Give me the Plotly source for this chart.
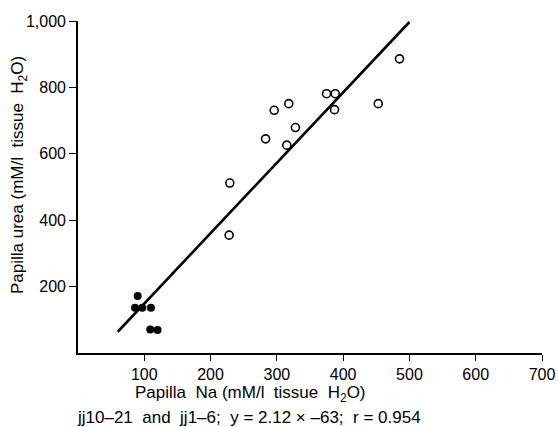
import plotly.graph_objects as go

# Open circles (jj10-21)
open_x = [228, 229, 283, 296, 315, 318, 328, 375, 388, 387, 453, 485]
open_y = [355, 512, 645, 731, 626, 751, 679, 781, 781, 733, 751, 886]

# Filled circles (jj1-6)
filled_x = [90, 86, 97, 110, 109, 120]
filled_y = [172, 136, 136, 136, 71, 69]

# Regression line end points (y = 2.12x - 63)
line_x = [60, 500]
line_y = [64, 997]

x_ticks = [100, 200, 300, 400, 500, 600, 700]
x_ticktext = ["100", "200", "300", "400", "500", "600", "700"]
y_ticks = [200, 400, 600, 800, 1000]
y_ticktext = ["200", "400", "600", "800", "1,000"]

FONT = "Liberation Sans"

W, H = 558, 427
L, T = 78, 21
R = W - 542
B = H - 353

fig = go.Figure()
fig.add_trace(go.Scatter(x=line_x, y=line_y, mode="lines",
                         line=dict(color="black", width=2.6), hoverinfo="skip"))
fig.add_trace(go.Scatter(x=open_x, y=open_y, mode="markers",
                         marker=dict(symbol="circle-open", size=8, color="black",
                                     line=dict(width=1.6, color="black"))))
fig.add_trace(go.Scatter(x=filled_x, y=filled_y, mode="markers",
                         marker=dict(symbol="circle", size=8, color="black")))

fig.update_layout(
    width=W, height=H,
    margin=dict(l=L, r=R, t=T, b=B, autoexpand=False),
    paper_bgcolor="white", plot_bgcolor="white",
    showlegend=False,
    font=dict(family=FONT, size=16, color="black"),
    xaxis=dict(range=[0, 700], tickvals=x_ticks, ticktext=x_ticktext,
               showline=True, linecolor="black", linewidth=1.6,
               ticks="outside", ticklen=6, tickwidth=1.4, tickcolor="black",
               showgrid=False, zeroline=False, automargin=False,
               tickfont=dict(family=FONT, size=16, color="black")),
    yaxis=dict(range=[0, 1000], tickvals=y_ticks, ticktext=y_ticktext,
               showline=True, linecolor="black", linewidth=1.6,
               ticks="outside", ticklen=7, tickwidth=1.4, tickcolor="black",
               showgrid=False, zeroline=False, automargin=False,
               tickfont=dict(family=FONT, size=16, color="black")),
)

pw = W - L - R
ph = H - T - B

def px2paper_x(px):
    return (px - L) / pw

def px2paper_y(py):
    return (H - B - py) / ph

fig.add_annotation(text="Papilla  Na (mM/l  tissue  H<sub>2</sub>O)",
                   xref="paper", yref="paper", x=px2paper_x(250), y=px2paper_y(394),
                   xanchor="center", yanchor="middle", showarrow=False,
                   font=dict(family=FONT, size=17, color="black"))
fig.add_annotation(text="jj10–21  and  jj1–6;  y = 2.12 × –63;  r = 0.954",
                   xref="paper", yref="paper", x=px2paper_x(249), y=px2paper_y(417),
                   xanchor="center", yanchor="middle", showarrow=False,
                   font=dict(family=FONT, size=17, color="black"))
fig.add_annotation(text="Papilla urea (mM/l  tissue  H<sub>2</sub>O)",
                   xref="paper", yref="paper", x=px2paper_x(19), y=px2paper_y(175),
                   xanchor="center", yanchor="middle", showarrow=False, textangle=-90,
                   font=dict(family=FONT, size=17, color="black"))

fig.write_html("out.html",
               config={"displayModeBar": False},
               post_script="document.body.style.margin='0';"
                           "document.documentElement.style.overflow='hidden';")
